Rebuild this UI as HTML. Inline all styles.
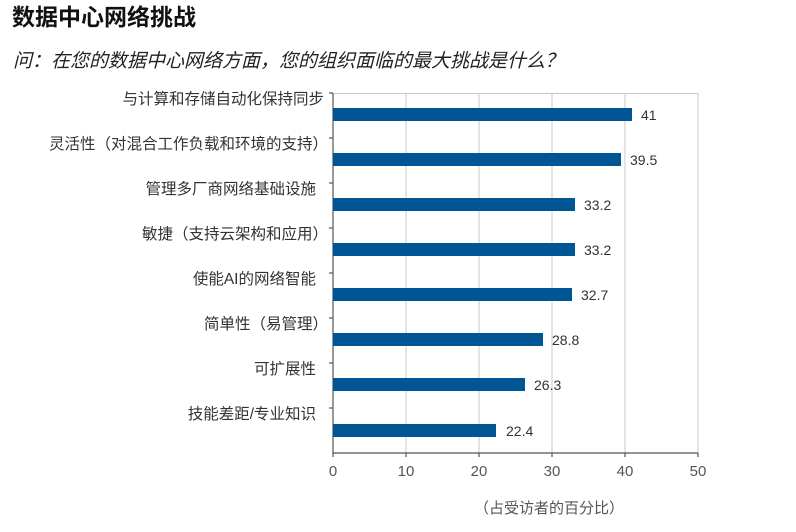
<!DOCTYPE html>
<html><head><meta charset="utf-8"><style>
body{margin:0;background:#fff;width:796px;height:527px;overflow:hidden;font-family:"Liberation Sans","Noto Sans CJK SC",sans-serif}
</style></head><body>
<svg width="796" height="527" xmlns="http://www.w3.org/2000/svg" font-family="Liberation Sans, Noto Sans CJK SC, sans-serif">
<text x="12" y="25" font-size="23" font-weight="bold" fill="#111">数据中心网络挑战</text>
<text x="13" y="67" font-size="19" font-style="italic" fill="#222">问：在您的数据中心网络方面，您的组织面临的最大挑战是什么？</text>
<g stroke="#c8c8c8" stroke-width="1">
<line x1="406" y1="93" x2="406" y2="453"/><line x1="479" y1="93" x2="479" y2="453"/>
<line x1="552" y1="93" x2="552" y2="453"/><line x1="625" y1="93" x2="625" y2="453"/>
<line x1="333" y1="93.5" x2="698" y2="93.5"/><line x1="698" y1="93" x2="698" y2="453"/>
</g>
<g stroke="#555" stroke-width="1.2">
<line x1="333" y1="93" x2="333" y2="453"/><line x1="333" y1="453" x2="698" y2="453"/>
<line x1="329" y1="93" x2="333" y2="93"/><line x1="329" y1="138" x2="333" y2="138"/><line x1="329" y1="183" x2="333" y2="183"/><line x1="329" y1="228" x2="333" y2="228"/><line x1="329" y1="273" x2="333" y2="273"/><line x1="329" y1="318" x2="333" y2="318"/><line x1="329" y1="363" x2="333" y2="363"/><line x1="329" y1="408" x2="333" y2="408"/>
<line x1="333" y1="453" x2="333" y2="457"/><line x1="406" y1="453" x2="406" y2="457"/><line x1="479" y1="453" x2="479" y2="457"/><line x1="552" y1="453" x2="552" y2="457"/><line x1="625" y1="453" x2="625" y2="457"/><line x1="698" y1="453" x2="698" y2="457"/>
</g>
<g fill="#005594">
<rect x="333" y="108" width="299" height="13"/>
<rect x="333" y="153" width="288" height="13"/>
<rect x="333" y="198" width="242" height="13"/>
<rect x="333" y="243" width="242" height="13"/>
<rect x="333" y="288" width="239" height="13"/>
<rect x="333" y="333" width="210" height="13"/>
<rect x="333" y="378" width="192" height="13"/>
<rect x="333" y="424" width="163" height="13"/>
</g>
<g font-size="14" fill="#333">
<text x="641" y="120">41</text><text x="630" y="165">39.5</text><text x="584" y="210">33.2</text><text x="584" y="255">33.2</text><text x="581" y="300">32.7</text><text x="552" y="345">28.8</text><text x="534" y="390">26.3</text><text x="506" y="436">22.4</text>
</g>
<g font-size="15.5" fill="#333" text-anchor="end">
<text x="324" y="104">与计算和存储自动化保持同步</text>
<text x="328" y="149">灵活性（对混合工作负载和环境的支持）</text>
<text x="316" y="194">管理多厂商网络基础设施</text>
<text x="328" y="239">敏捷（支持云架构和应用）</text>
<text x="316" y="284">使能AI的网络智能</text>
<text x="328" y="329">简单性（易管理）</text>
<text x="316" y="374">可扩展性</text>
<text x="316" y="419">技能差距/专业知识</text>
</g>
<g font-size="15" fill="#555" text-anchor="middle">
<text x="333" y="476">0</text><text x="406" y="476">10</text><text x="479" y="476">20</text><text x="552" y="476">30</text><text x="625" y="476">40</text><text x="698" y="476">50</text>
<text x="549" y="513">（占受访者的百分比）</text>
</g>
</svg>
</body></html>
